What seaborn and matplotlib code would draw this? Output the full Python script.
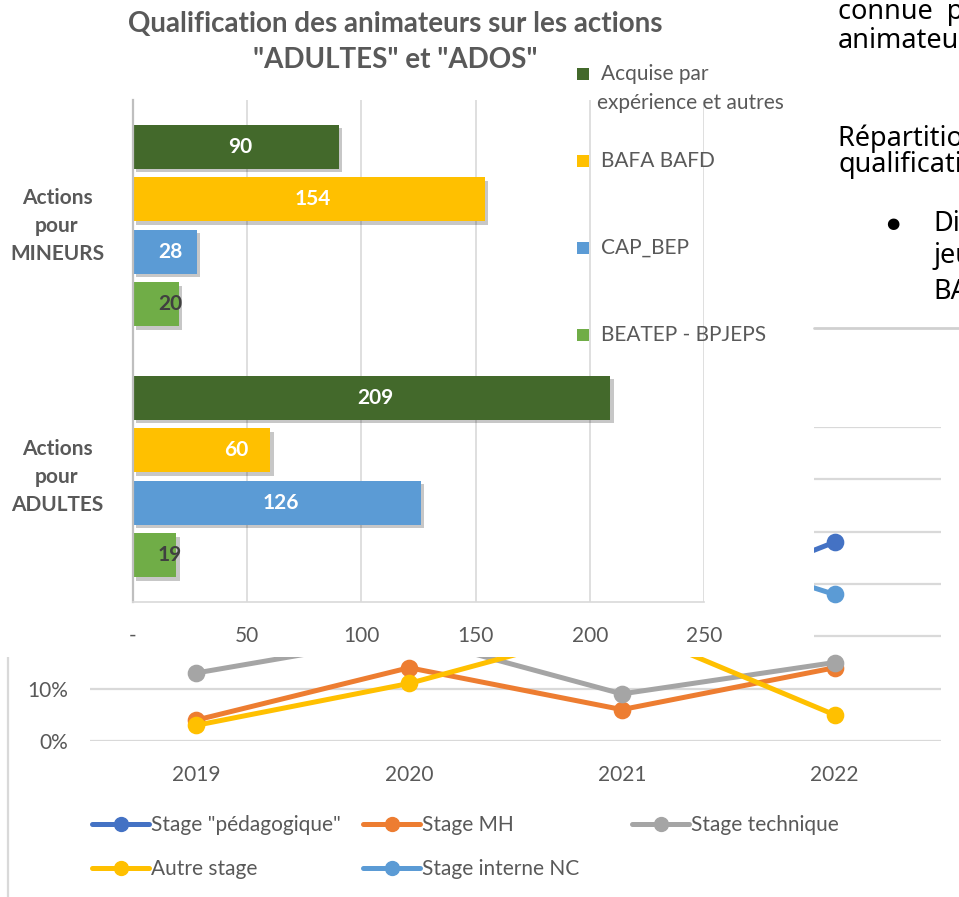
import matplotlib
matplotlib.use("Agg")
import matplotlib.pyplot as plt
import matplotlib.patheffects as pe
import matplotlib.transforms as mtransforms
from matplotlib.patches import Rectangle
from matplotlib.lines import Line2D
from matplotlib.ticker import PercentFormatter
import pandas as pd
import seaborn as sns

# ---------------- bar chart: animator qualifications ----------------
groups = ["Actions\npour\nMINEURS", "Actions\npour\nADULTES"]
qualifs = ["Acquise par\nexpérience et autres", "BAFA BAFD", "CAP_BEP", "BEATEP - BPJEPS"]
mineurs = [90, 154, 28, 20]
adultes = [209, 60, 126, 19]
bar_ticks = [0, 50, 100, 150, 200, 250]
bar_tick_labels = ["-", "50", "100", "150", "200", "250"]
title_lines = ["Qualification des animateurs sur les actions", "\"ADULTES\" et \"ADOS\""]

# ---------------- line chart: share of training courses ----------------
years = ["2019", "2020", "2021", "2022"]
stages = ['Stage "pédagogique"', "Stage MH", "Stage technique", "Autre stage", "Stage interne NC"]
stage_pedagogique = [0.48, 0.42, 0.22, 0.38]
stage_mh = [0.04, 0.14, 0.06, 0.14]
stage_technique = [0.13, 0.20, 0.09, 0.15]
autre_stage = [0.03, 0.11, 0.22, 0.05]
stage_interne_nc = [0.32, 0.30, 0.41, 0.28]
line_ticks = [0, 0.1, 0.2, 0.3, 0.4, 0.5, 0.6]

bar_colors = ["#43692B", "#FFC000", "#5B9BD5", "#70AD47"]
stage_colors = ["#4472C4", "#ED7D31", "#A5A5A5", "#FFC000", "#5B9BD5"]
GREY = "#595959"

sns.set_theme(style="white")
plt.rcParams["font.family"] = ["Lato", "DejaVu Sans"]

W, H = 959, 897
fig = plt.figure(figsize=(W / 100, H / 100), dpi=100)
fig.patch.set_facecolor("white")


def fx(x):
    return x / W


def fy(y):
    return 1 - y / H


def box(x0, y0, x1, y1):
    return [fx(x0), fy(y1), (x1 - x0) / W, (y1 - y0) / H]


# ---------------- line chart (background) ----------------
line_df = pd.DataFrame({
    "Année": years * len(stages),
    "Stage": [s for s in stages for _ in years],
    "Part": stage_pedagogique + stage_mh + stage_technique + autre_stage + stage_interne_nc,
})

ax_line = fig.add_axes(box(90, 427, 941, 741), zorder=0)
sns.pointplot(data=line_df, x="Année", y="Part", hue="Stage", hue_order=stages,
              order=years, palette=stage_colors, markers="o", linestyles="-",
              errorbar=None, markersize=10, linewidth=3.6, legend=False, ax=ax_line)
ax_line.set_xlim(-0.5, 3.5)
ax_line.set_ylim(0, 0.6)
ax_line.set_yticks(line_ticks)
ax_line.yaxis.set_major_formatter(PercentFormatter(1.0, decimals=0))
ax_line.yaxis.grid(True, color="#D9D9D9", lw=1.6)
ax_line.xaxis.grid(False)
ax_line.set_axisbelow(True)
for s in ax_line.spines.values():
    s.set_visible(False)
ax_line.set_xlabel("")
ax_line.set_ylabel("")
ax_line.tick_params(axis="x", length=0, pad=17, labelsize=15, labelcolor=GREY)
ax_line.tick_params(axis="y", length=0, pad=16, labelsize=15, labelcolor=GREY)
# the upper percentage labels sit behind the bar chart
fig.canvas.draw()
for lbl in ax_line.get_yticklabels()[2:]:
    lbl.set_visible(False)

legend_slots = [(92, 825), (363, 825), (632, 825), (92, 869), (363, 869)]
legends = []
for name, col, (lx, ly) in zip(stages, stage_colors, legend_slots):
    h = Line2D([], [], color=col, lw=3.6, marker="o", markersize=10)
    leg = ax_line.legend(handles=[h], labels=[name], loc="center left",
                         bbox_to_anchor=(fx(lx), fy(ly)), bbox_transform=fig.transFigure,
                         frameon=False, borderpad=0, borderaxespad=0, handlelength=2.75,
                         handletextpad=0.1, fontsize=15, labelcolor=GREY, numpoints=1)
    legends.append(leg)
for leg in legends[:-1]:
    ax_line.add_artist(leg)

# chart-area border on the left of the line chart
fig.add_artist(Line2D([fx(8), fx(8)], [fy(657), 0], transform=fig.transFigure,
                      color="#D9D9D9", lw=1.6, zorder=0.5))

# ---------------- white chart area of the bar chart ----------------
fig.add_artist(Rectangle((0, fy(657)), fx(814), 657 / H, transform=fig.transFigure,
                         facecolor="white", edgecolor="none", zorder=1))

# ---------------- bar chart ----------------
bar_df = pd.DataFrame({
    "Action": [groups[0]] * len(qualifs) + [groups[1]] * len(qualifs),
    "Qualification": qualifs * 2,
    "Effectif": mineurs + adultes,
})

ax_bar = fig.add_axes(box(133, 100, 704, 602), zorder=2)
ax_bar.set_facecolor("none")
sns.barplot(data=bar_df, x="Effectif", y="Action", hue="Qualification", order=groups,
            hue_order=qualifs, palette=bar_colors, orient="h", width=0.835, gap=0.16,
            saturation=1, edgecolor="none", legend=False, ax=ax_bar)
ax_bar.set_xlim(0, 250)
ax_bar.set_ylim(1.5, -0.5)
ax_bar.set_xticks(bar_ticks)
ax_bar.set_xticklabels(bar_tick_labels)
ax_bar.set_yticks([])
ax_bar.set_xlabel("")
ax_bar.set_ylabel("")
ax_bar.xaxis.grid(True, color="#D9D9D9", lw=1.2)
ax_bar.yaxis.grid(False)
ax_bar.set_axisbelow(True)
ax_bar.spines["top"].set_visible(False)
ax_bar.spines["right"].set_visible(False)
ax_bar.spines["left"].set_color("#BFBFBF")
ax_bar.spines["left"].set_linewidth(1.6)
ax_bar.spines["bottom"].set_color("#D9D9D9")
ax_bar.spines["bottom"].set_linewidth(1.2)
ax_bar.tick_params(axis="x", length=0, pad=17, labelsize=15, labelcolor=GREY)

for patch in ax_bar.patches:
    patch.set_path_effects([pe.SimplePatchShadow(offset=(2.5, -2.5), shadow_rgbFace="black", alpha=0.22),
                            pe.Normal()])

# value labels inside the bars
label_nudge = {("Actions\npour\nADULTES", "BAFA BAFD"): 13.5}
for qual, cont in zip(qualifs, ax_bar.containers):
    for grp, bar in zip(groups, cont):
        v = bar.get_width()
        yc = bar.get_y() + bar.get_height() / 2
        xpos = max(v / 2 + 1.8, 16.2) + label_nudge.get((grp, qual), 0)
        color = "white" if v >= 25 else "#404040"
        ax_bar.text(xpos, yc, f"{v:.0f}", ha="center", va="center", fontsize=15,
                    fontweight="bold", color=color, zorder=5)

# category labels
lab_tr = mtransforms.blended_transform_factory(ax_bar.transAxes, ax_bar.transData)
for i, g in enumerate(groups):
    ax_bar.text(-0.133, i, g, transform=lab_tr, ha="center", va="center",
                multialignment="center", fontsize=15, fontweight="bold", color=GREY,
                linespacing=1.5, clip_on=False)

# title, two centred lines
for line, ty in zip(title_lines, [24, 60]):
    fig.text(fx(395), fy(ty), line, ha="center", va="center", fontsize=20,
             fontweight="bold", color=GREY, zorder=5)

# bar legend
legend_rows = [74, 161, 248, 335]
for qual, col, ry in zip(qualifs, bar_colors, legend_rows):
    fig.add_artist(Rectangle((fx(577), fy(ry + 6)), 12 / W, 12 / H, transform=fig.transFigure,
                             facecolor=col, edgecolor="none", zorder=5))
    parts = qual.split("\n")
    fig.text(fx(601), fy(ry), parts[0], ha="left", va="center", fontsize=15,
             color=GREY, zorder=5)
    if len(parts) > 1:
        fig.text(fx(597), fy(ry + 29), parts[1], ha="left", va="center", fontsize=15,
                 color=GREY, zorder=5)

# ---------------- surrounding document text ----------------
doc_kw = dict(ha="left", va="baseline", fontsize=19.5, color="black",
              family=["Noto Sans", "DejaVu Sans"], zorder=5)
fig.text(fx(838), fy(19), "connue  par les", **doc_kw)
fig.text(fx(838), fy(48), "animateurs", **doc_kw)
fig.text(fx(838), fy(146), "Répartition des", **doc_kw)
fig.text(fx(838), fy(172), "qualifications", **doc_kw)
fig.text(fx(893), fy(223), "●", ha="center", va="center", fontsize=11, color="black",
         family=["DejaVu Sans"], zorder=5)
fig.text(fx(933), fy(231), "Diplômes", **doc_kw)
fig.text(fx(933), fy(263), "jeunesse", **doc_kw)
fig.text(fx(933), fy(299), "BAFA", **doc_kw)
fig.add_artist(Line2D([fx(814), 1], [fy(328), fy(328)], transform=fig.transFigure,
                      color="#D0D0D0", lw=2, zorder=5))

fig.savefig("out.png", dpi=100, facecolor="white")
